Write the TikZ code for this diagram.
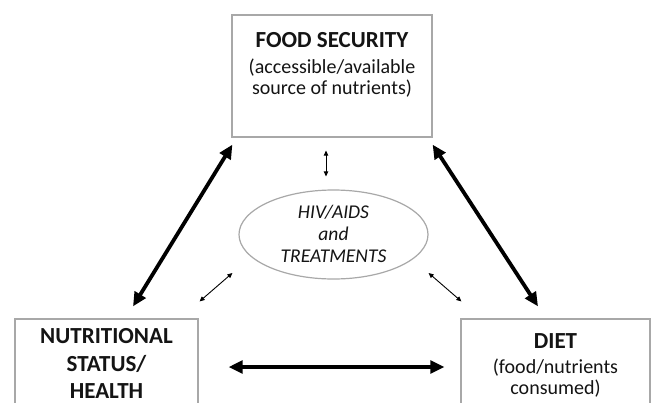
\documentclass[tikz,border=0pt]{standalone}
\usepackage{fontspec}
\setmainfont{Carlito}
\usetikzlibrary{arrows.meta,shapes.geometric}
\definecolor{boxgray}{RGB}{168,168,168}
\definecolor{txt}{RGB}{20,20,20}
\tikzset{
  boxnode/.style={draw=boxgray, line width=1.2pt, inner sep=0pt, fill=none},
  ttl/.style={anchor=base, text=txt, inner sep=0pt, font=\fontsize{23}{25}\selectfont\bfseries},
  sub/.style={anchor=base, text=txt, inner sep=0pt, font=\fontsize{20}{22}\selectfont},
  ital/.style={anchor=base, text=txt, inner sep=0pt, font=\fontsize{19.5}{21}\selectfont\itshape},
  bigarrow/.style={line width=3.8pt, {Triangle[length=14pt,width=12.5pt]}-{Triangle[length=14pt,width=12.5pt]}, draw=black},
  smallarrow/.style={line width=0.9pt, {Triangle[length=5pt,width=4.5pt]}-{Triangle[length=5pt,width=4.5pt]}, draw=black}
}
\begin{document}
\begin{tikzpicture}[x=1pt,y=-1pt]
\useasboundingbox (0,0) rectangle (655,402);
\clip (0,0) rectangle (655,402);
\fill[white] (0,0) rectangle (655,402);
% boxes
\node[boxnode, minimum width=200pt, minimum height=122pt] (fs) at (332,76) {};
\node[boxnode, minimum width=183pt, minimum height=122pt] (ns) at (106.5,380) {};
\node[boxnode, minimum width=189pt, minimum height=122pt] (di) at (555.5,380) {};
\node[boxnode, ellipse, minimum width=189pt, minimum height=89pt] (hiv) at (333.5,234.5) {};
% texts
\node[ttl] (fs1) at (332,47) {FOOD SECURITY};
\node[sub] (fs2) at (332,73) {(accessible/available};
\node[sub] (fs3) at (332,94) {source of nutrients)};
\node[ttl] (ns1) at (106.5,343) {NUTRITIONAL};
\node[ttl] (ns2) at (106.5,371) {STATUS/};
\node[ttl] (ns3) at (106.5,398) {HEALTH};
\node[ttl] (di1) at (555.5,348) {DIET};
\node[sub] (di2) at (555.5,373) {(food/nutrients};
\node[sub] (di3) at (555.5,394) {consumed)};
\node[ital] (h1) at (333.5,218) {HIV/AIDS};
\node[ital] (h2) at (333.5,240) {and};
\node[ital] (h3) at (333.5,262) {TREATMENTS};
% arrow end points
\coordinate (a1) at ([shift={(1,7)}]fs.south west);
\coordinate (a2) at ([shift={(26.5,-12)}]ns.north);
\coordinate (b1) at ([shift={(0,7)}]fs.south east);
\coordinate (b2) at ([shift={(-17.5,-12)}]di.north);
\coordinate (c1) at ([shift={(30,-13)}]ns.east);
\coordinate (c2) at ([shift={(-16,-13)}]di.west);
\coordinate (d1) at ([shift={(-6,13)}]fs.south);
\coordinate (d2) at ([shift={(-7.5,-13)}]hiv.north);
\coordinate (e1) at ([shift={(1,-17)}]ns.north east);
\coordinate (e2) at ([shift={(-6,38.5)}]hiv.west);
\coordinate (f1) at ([shift={(1,-17)}]di.north west);
\coordinate (f2) at ([shift={(0,38.5)}]hiv.east);
% arrows
\draw[bigarrow] (a2) -- (a1);
\draw[bigarrow] (b1) -- (b2);
\draw[bigarrow] (c1) -- (c2);
\draw[smallarrow] (d1) -- (d2);
\draw[smallarrow] (e1) -- (e2);
\draw[smallarrow] (f2) -- (f1);
\end{tikzpicture}
\end{document}
